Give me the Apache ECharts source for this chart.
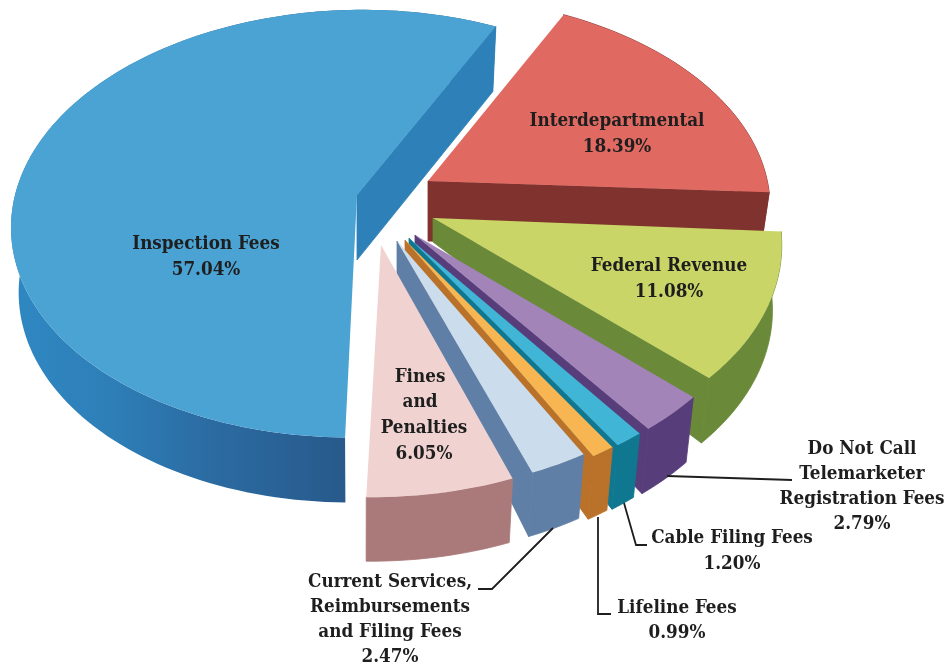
<!DOCTYPE html>
<html><head><meta charset="utf-8">
<style>html,body{margin:0;padding:0;background:#fff}#c{width:948px;height:666px}</style>
<script src="https://cdn.jsdelivr.net/npm/echarts@6/dist/echarts.min.js"></script>
</head><body><div id="c"></div>
<script>
const categories = ['Inspection Fees','Interdepartmental','Federal Revenue','Do Not Call Telemarketer Registration Fees','Cable Filing Fees','Lifeline Fees','Current Services, Reimbursements and Filing Fees','Fines and Penalties'];
const values = [57.04,18.39,11.08,2.79,1.20,0.99,2.47,6.05];
const labelLines = [['Inspection Fees'],['Interdepartmental'],['Federal Revenue'],['Do Not Call','Telemarketer','Registration Fees'],['Cable Filing Fees'],['Lifeline Fees'],['Current Services,','Reimbursements','and Filing Fees'],['Fines','and','Penalties']];
const topColors = ['#4BA3D3','#E06A62','#C9D566','#A384B9','#40B5D6','#F8B653','#CBDDEC','#F0D3D0'];
const sideColors = ['#2E80B8','#80322E','#6A8A3A','#573D7A','#0F7890','#BA722B','#5F7FA6','#A97A79'];
const blueWallStops = [[0,'#2F88C2'],[.2,'#2E7FB8'],[.4,'#2B6CA3'],[.68,'#285A8C'],[1,'#285A8C']];
// slice geometry: apex, radii, perspective, shear, wall height at the rim and at the apex
const geom = [
 {cx:357,cy:195,rx:342,ry:210,k:.134,sx:-.03,sy:0,d:65,ad:65},
 {cx:428,cy:181,rx:340,ry:205,k:.11,sx:0,sy:.01,d:60,ad:60},
 {cx:433,cy:218,rx:347,ry:217,k:.1,sx:0,sy:.015,d:65,ad:24},
 {cx:415,cy:235,rx:350,ry:226,k:.1,sx:0,sy:0,d:65,ad:22},
 {cx:409,cy:238,rx:346,ry:228,k:.1,sx:0,sy:0,d:64,ad:26},
 {cx:405,cy:240,rx:344,ry:228,k:.1,sx:0,sy:0,d:63,ad:28},
 {cx:397,cy:241,rx:341,ry:225,k:.1,sx:0,sy:0,d:64,ad:34},
 {cx:381,cy:245,rx:355,ry:227,k:.1,sx:-.04,sy:0,d:64,ad:0}
];
const labelPos = [[206,244],[617,121],[669,266],[862,449],[732,538],[677,608],[390,582],[420,377]];
const pctPos = [[206,270],[617,147],[669,292],[862,524],[732,564],[677,633],[390,657],[424,454]];
const leaders = [null,null,null,[[667,476],[792,480]],[[624,503],[636,545],[647,545]],[[598,517],[598,614],[611,614]],[[553,528],[492,589],[478,589]],null];
const startAngle = 26;
const total = values.reduce((a,b)=>a+b,0);
const ends = []; let acc = startAngle - values[0]/total*360;
values.forEach(v=>{const a0=acc; acc+=v/total*360; ends.push([a0,acc]);});

function pt(g,deg,r,z){
  const t=deg*Math.PI/180,u=r*Math.sin(t),v=r*Math.cos(t),w=1+g.k*v;
  const X=u*g.rx/w,Y=-v*g.ry/w;
  let x=g.cx+X+g.sx*Y,y=g.cy+Y+g.sy*X;
  if(z){x+=(360-x)*.022;y+=z;}
  return [x,y];
}
function arc(g,a0,a1,z){const n=Math.max(4,Math.ceil(Math.abs(a1-a0)/1.5)),o=[];for(let i=0;i<=n;i++)o.push(pt(g,a0+(a1-a0)*i/n,1,z));return o;}

function renderSlice(params,api){
  const i=api.value(0),g=geom[i],[a0,a1]=ends[i],ch=[];
  const top=arc(g,a0,a1,0),low=arc(g,a0,a1,g.d).reverse();
  const wallFill=i===0?{type:'linear',x:0,y:0,x2:1,y2:0,colorStops:blueWallStops.map(s=>({offset:s[0],color:s[1]}))}:sideColors[i];
  const c=pt(g,a1,1,0),cb=pt(g,a1,1,g.d);
  const outer={type:'polygon',shape:{points:top.concat(low)},style:{fill:wallFill,stroke:i===0?null:sideColors[i],lineWidth:.8}};
  const radial=g.ad>0?{type:'polygon',shape:{points:[[g.cx,g.cy],c,cb,[g.cx,g.cy+g.ad]]},style:{fill:sideColors[i],stroke:sideColors[i],lineWidth:.8}}:null;
  if(i===0){ch.push(outer,radial);}else{if(radial)ch.push(radial);ch.push(outer);}
  ch.push({type:'polygon',shape:{points:[[g.cx,g.cy]].concat(top)},style:{fill:topColors[i]}});
  return {type:'group',children:ch};
}
const FONT='bold 18.7px "DejaVu Serif Condensed","DejaVu Serif",serif';
function renderLabel(params,api){
  const i=api.value(0),ch=[];
  const lines=labelLines[i],p=labelPos[i];
  const step=lines.length>1?(i===7?25.5:25):0;
  lines.forEach((s,j)=>ch.push({type:'text',style:{text:s,x:p[0]+(i===7&&j===2?4:0),y:p[1]+j*step,align:'center',verticalAlign:'middle',font:FONT,fill:'#1e1e1e'}}));
  ch.push({type:'text',style:{text:values[i].toFixed(2)+'%',x:pctPos[i][0],y:pctPos[i][1],align:'center',verticalAlign:'middle',font:FONT,fill:'#1e1e1e'}});
  if(leaders[i]) ch.push({type:'polyline',shape:{points:leaders[i]},style:{stroke:'#1e1e1e',lineWidth:1.8,fill:null}});
  return {type:'group',children:ch};
}
const chart=echarts.init(document.getElementById('c'),null,{renderer:'canvas'});
const rows=values.map((v,i)=>[i,v,categories[i]]);
chart.setOption({backgroundColor:'#fff',animation:false,series:[
 {type:'custom',coordinateSystem:'none',renderItem:renderSlice,data:rows,silent:true,z:1},
 {type:'custom',coordinateSystem:'none',renderItem:renderLabel,data:rows,silent:true,z:2}
]});
</script></body></html>
